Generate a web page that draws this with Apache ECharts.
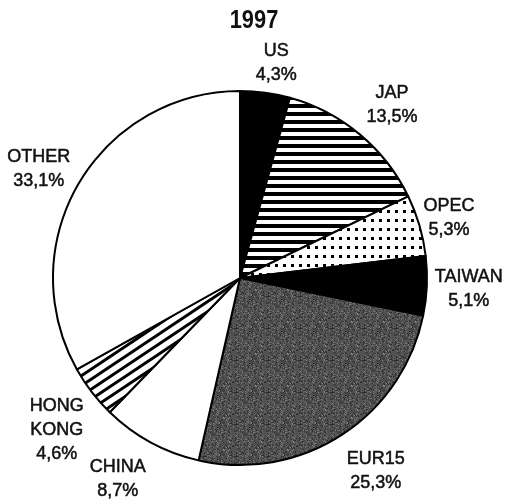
<!DOCTYPE html>
<html>
<head>
<meta charset="utf-8">
<script src="https://cdn.jsdelivr.net/npm/echarts@6/dist/echarts.min.js"></script>
<style>
  html, body { margin: 0; padding: 0; background: #fff; }
  #chart { width: 505px; height: 499px; }
</style>
</head>
<body>
<div id="chart"></div>
<script>
// Export shares by destination, 1997 (%)
const year = '1997';
const categories = ['US', 'JAP', 'OPEC', 'TAIWAN', 'EUR15', 'CHINA', 'HONG KONG', 'OTHER'];
const shares = [4.3, 13.5, 5.3, 5.1, 25.3, 8.7, 4.6, 33.1];

// Layout of the pie and its labels
const CX = 240, CY = 278, R = 187;
const LABEL_DIST = 225;                 // labels sit on a ring around the pie...
const labelNudge = [[6, 8], [8, 0], [-7, 3], [4, 1], [14, 4], [-15, 3], [-5, 15], [-7, 5]]; // ...with small hand offsets

function makeTile(w, h, draw) {
  const c = document.createElement('canvas');
  c.width = w; c.height = h;
  const g = c.getContext('2d');
  g.fillStyle = '#fff';
  g.fillRect(0, 0, w, h);
  draw(g, w, h);
  return { image: c, repeat: 'repeat' };
}

// Horizontal stripes
const hStripes = makeTile(8, 8, (g) => {
  g.fillStyle = '#000';
  g.fillRect(0, 0, 8, 4);
});

// Dot screen
const dots = makeTile(8, 9, (g) => {
  g.fillStyle = '#000';
  g.fillRect(3, 3, 3, 3);
});

// Diagonal stripes rising to the right
const dStripes = makeTile(30, 20, (g, w, h) => {
  g.strokeStyle = '#000';
  g.lineWidth = 3;
  for (let k = -4; k <= 4; k++) {
    g.beginPath();
    g.moveTo(-5, h + k * 10 + (2 / 3) * 5);
    g.lineTo(w + 5, h + k * 10 - (2 / 3) * (w + 5));
    g.stroke();
  }
});

// Dark grey speckled screen
const speckle = makeTile(32, 32, (g, w, h) => {
  g.fillStyle = '#505050';
  g.fillRect(0, 0, w, h);
  for (let y = 0; y < h; y++) {
    for (let x = 0; x < w; x++) {
      const v = ((x * 73856093) ^ (y * 19349663) ^ ((x + y) * 83492791)) >>> 0;
      const m = v % 11;
      if (m === 0 || m === 5) { g.fillStyle = '#2e2e2e'; g.fillRect(x, y, 1, 1); }
      else if (m === 3) { g.fillStyle = '#7a7a7a'; g.fillRect(x, y, 1, 1); }
      else if (m === 7) { g.fillStyle = '#636363'; g.fillRect(x, y, 1, 1); }
    }
  }
});

const fills = ['#000', hStripes, dots, '#000', speckle, '#fff', dStripes, '#fff'];

const total = shares.reduce((a, b) => a + b, 0);
const midAngles = [];
let acc = 0;
shares.forEach((v) => {
  midAngles.push(((acc + v / 2) / total) * 2 * Math.PI);
  acc += v;
});

const chart = echarts.init(document.getElementById('chart'), null, { renderer: 'canvas' });
chart.setOption({
  backgroundColor: '#fff',
  animation: false,
  graphic: [{
    type: 'text',
    x: 254,
    y: 21,
    scaleX: 0.84,
    silent: true,
    style: {
      text: year,
      fontFamily: 'Liberation Sans, Arial, sans-serif',
      fontWeight: 'bold',
      fontSize: 26,
      fill: '#111',
      align: 'center',
      verticalAlign: 'middle'
    }
  }],
  series: [{
    type: 'pie',
    center: [CX, CY],
    radius: R,
    startAngle: 90,
    clockwise: true,
    silent: true,
    itemStyle: { borderColor: '#000', borderWidth: 2 },
    label: {
      show: true,
      position: 'outside',
      overflow: 'none',
      fontFamily: 'Liberation Sans, Arial, sans-serif',
      fontSize: 18,
      lineHeight: 24,
      color: '#111',
      textBorderColor: '#111',
      textBorderWidth: 0.5,
      align: 'center',
      formatter: (p) => p.name.replace(' ', '\n') + '\n' + p.value.toFixed(1).replace('.', ',') + '%'
    },
    labelLine: { show: false },
    labelLayout: (p) => {
      const i = p.dataIndex;
      const a = midAngles[i];
      return {
        x: CX + LABEL_DIST * Math.sin(a) + labelNudge[i][0],
        y: CY - LABEL_DIST * Math.cos(a) + labelNudge[i][1],
        align: 'center',
        verticalAlign: 'middle'
      };
    },
    data: categories.map((name, i) => ({
      name: name,
      value: shares[i],
      itemStyle: { color: fills[i] }
    }))
  }]
});
</script>
</body>
</html>
